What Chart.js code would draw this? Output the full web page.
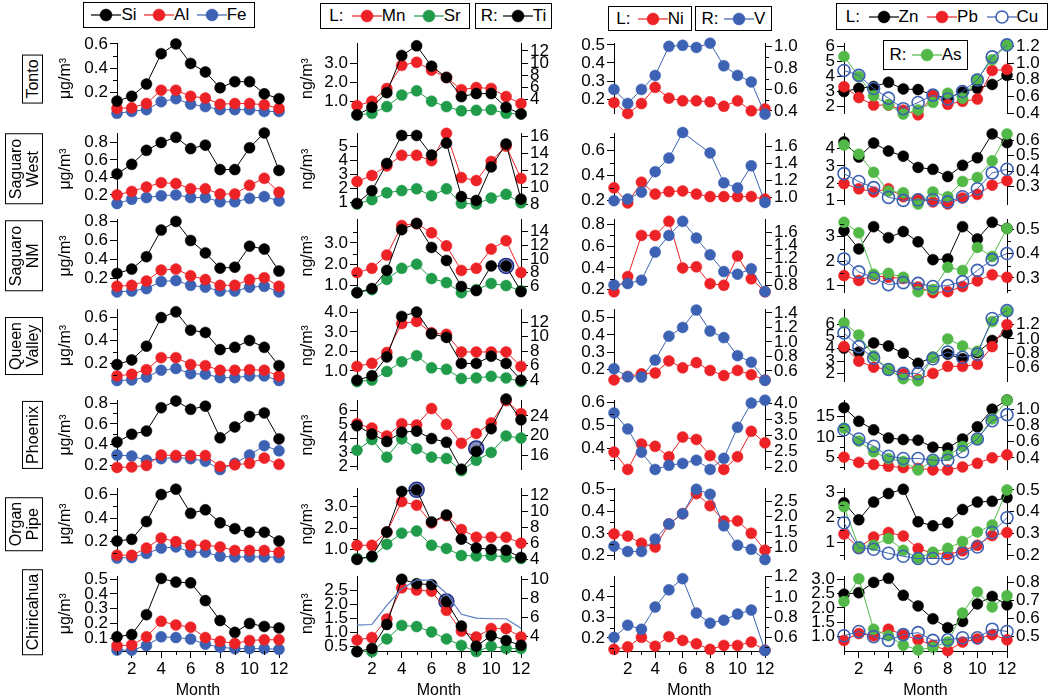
<!DOCTYPE html>
<html>
<head>
<meta charset="utf-8">
<title>Monthly elemental concentrations by site</title>
<script src="https://cdn.jsdelivr.net/npm/chart.js@4.4.1/dist/chart.umd.min.js"></script>
<style>
  body { margin: 0; width: 1050px; height: 700px; position: relative; overflow: hidden; background: #fff;
         font-family: 'Liberation Sans', Arial, sans-serif; color: #000; }
  canvas.panel { position: absolute; }
  .rowlab { position: absolute; left: 0; width: 43px; display: flex; justify-content: flex-end; transform: translateY(-50%); }
  .rowlab span { writing-mode: vertical-rl; transform: rotate(180deg); border: 1px solid #000; padding: 4px 1px;
                 font-size: 16px; line-height: 17px; text-align: center; white-space: nowrap; }
  .leg { position: absolute; box-sizing: border-box; border: 1px solid #000; background: #fff; display: flex;
         align-items: center; justify-content: space-evenly; font-size: 17px; white-space: nowrap; z-index: 5; }
  .leg svg { display: block; }
  .leg .it { display: flex; align-items: center; }
</style>
</head>
<body>
<script>
(function () {
  'use strict';

  // ── DATA ──────────────────────────────────────────────────────────────────
  var months = ['1', '2', '3', '4', '5', '6', '7', '8', '9', '10', '11', '12'];
  var sites  = ['Tonto', 'Saguaro\nWest', 'Saguaro\nNM', 'Queen\nValley', 'Phoenix', 'Organ\nPipe', 'Chiricahua'];

  // column 1 (µg/m3): Si, Al, Fe
  var siTonto = [0.13, 0.17, 0.27, 0.52, 0.60, 0.44, 0.37, 0.24, 0.29, 0.29, 0.19, 0.15];
  var alTonto = [0.07, 0.075, 0.11, 0.22, 0.22, 0.17, 0.155, 0.105, 0.11, 0.11, 0.10, 0.07];
  var feTonto = [0.03, 0.045, 0.06, 0.125, 0.15, 0.105, 0.085, 0.06, 0.06, 0.06, 0.045, 0.045];
  var siSW    = [0.44, 0.55, 0.71, 0.80, 0.86, 0.73, 0.77, 0.49, 0.49, 0.74, 0.91, 0.48];
  var alSW    = [0.20, 0.24, 0.29, 0.34, 0.33, 0.27, 0.27, 0.21, 0.21, 0.31, 0.39, 0.23];
  var feSW    = [0.10, 0.15, 0.17, 0.19, 0.20, 0.17, 0.17, 0.12, 0.12, 0.16, 0.18, 0.13];
  var siSNM   = [0.255, 0.30, 0.43, 0.71, 0.80, 0.60, 0.47, 0.31, 0.32, 0.54, 0.51, 0.28];
  var alSNM   = [0.12, 0.13, 0.175, 0.29, 0.30, 0.23, 0.19, 0.13, 0.13, 0.19, 0.21, 0.12];
  var feSNM   = [0.06, 0.07, 0.095, 0.17, 0.18, 0.13, 0.11, 0.07, 0.07, 0.11, 0.12, 0.06];
  var siQV    = [0.19, 0.23, 0.35, 0.60, 0.65, 0.49, 0.47, 0.32, 0.34, 0.40, 0.34, 0.18];
  var alQV    = [0.09, 0.105, 0.145, 0.25, 0.25, 0.19, 0.18, 0.14, 0.14, 0.145, 0.14, 0.09];
  var feQV    = [0.05, 0.055, 0.08, 0.14, 0.155, 0.11, 0.105, 0.075, 0.075, 0.09, 0.09, 0.05];
  var siPhx   = [0.425, 0.50, 0.53, 0.755, 0.82, 0.74, 0.77, 0.465, 0.57, 0.67, 0.705, 0.455];
  var alPhx   = [0.18, 0.185, 0.20, 0.30, 0.295, 0.295, 0.295, 0.19, 0.205, 0.22, 0.27, 0.21];
  var fePhx   = [0.30, 0.29, 0.25, 0.265, 0.275, 0.265, 0.24, 0.16, 0.22, 0.30, 0.39, 0.34];
  var siOP    = [0.205, 0.22, 0.37, 0.60, 0.645, 0.44, 0.47, 0.36, 0.31, 0.28, 0.28, 0.205];
  var alOP    = [0.085, 0.085, 0.145, 0.23, 0.20, 0.17, 0.17, 0.155, 0.125, 0.125, 0.125, 0.11];
  var feOP    = [0.06, 0.065, 0.10, 0.145, 0.155, 0.11, 0.11, 0.075, 0.07, 0.07, 0.07, 0.065];
  var siChi   = [0.11, 0.125, 0.26, 0.505, 0.48, 0.475, 0.355, 0.22, 0.14, 0.20, 0.18, 0.17];
  var alChi   = [0.05, 0.055, 0.11, 0.215, 0.19, 0.175, 0.105, 0.08, 0.065, 0.085, 0.09, 0.09];
  var feChi   = [0.02, 0.02, 0.05, 0.11, 0.105, 0.095, 0.06, 0.04, 0.03, 0.03, 0.03, 0.025];

  // column 2 (ng/m3): Mn, Sr left, Ti right
  var mnTonto = [0.80, 1.03, 1.69, 2.89, 3.05, 2.64, 2.26, 1.63, 1.74, 1.69, 1.27, 0.90];
  var srTonto = [0.32, 0.40, 0.75, 1.35, 1.57, 1.03, 0.75, 0.53, 0.56, 0.59, 0.40, 0.37];
  var tiTonto = [1.5, 2.75, 5.15, 11.25, 12.85, 9.5, 7.65, 4.5, 5.0, 5.0, 2.75, 1.65];
  var mnSW    = [2.5, 2.93, 3.6, 4.35, 4.35, 3.97, 5.9, 2.78, 2.57, 3.92, 5.0, 2.72];
  var srSW    = [0.91, 1.22, 1.71, 1.86, 1.99, 1.5, 1.99, 0.96, 0.91, 1.34, 1.6, 1.0];
  var tiSW    = [8.1, 9.6, 12.8, 16.1, 16.1, 13.8, 15.2, 8.9, 8.45, 12.4, 15.1, 8.6];
  var mnSNM   = [1.61, 1.81, 2.43, 3.81, 3.9, 3.47, 2.86, 1.71, 1.81, 2.71, 3.1, 1.61];
  var srSNM   = [0.67, 0.81, 1.29, 1.81, 2.0, 1.33, 1.14, 0.67, 0.81, 1.1, 1.0, 0.76];
  var tiSNM   = [5.1, 5.7, 8.35, 14.3, 15.2, 11.7, 9.8, 6.0, 5.4, 9.0, 9.0, 5.25];
  var mnQV    = [1.23, 1.39, 1.94, 3.42, 3.53, 2.95, 2.87, 1.97, 1.97, 1.97, 1.97, 1.23];
  var srQV    = [0.45, 0.53, 0.97, 1.47, 1.78, 1.16, 1.08, 0.61, 0.64, 0.72, 0.64, 0.45];
  var tiQV    = [4.0, 4.6, 7.2, 12.8, 13.4, 10.4, 9.9, 6.3, 6.3, 7.3, 6.3, 4.0];
  var mnPhx   = [5.06, 4.75, 4.18, 5.06, 4.97, 6.15, 5.02, 3.66, 4.36, 5.12, 6.72, 5.78];
  var srPhx   = [3.15, 3.92, 2.66, 3.97, 3.27, 2.66, 2.56, 1.69, 2.43, 3.0, 4.18, 4.03];
  var tiPhx   = [22.0, 20.3, 18.8, 20.7, 20.9, 19.4, 18.65, 13.2, 16.8, 21.4, 27.4, 23.2];
  var mnOP    = [1.19, 1.19, 1.81, 3.24, 3.07, 2.24, 2.57, 1.93, 1.57, 1.57, 1.57, 1.29];
  var srOP    = [0.57, 0.64, 1.24, 1.76, 1.86, 1.19, 1.04, 0.71, 0.69, 0.71, 0.64, 0.57];
  var tiOP    = [3.95, 4.35, 7.4, 12.5, 12.7, 8.67, 9.55, 6.5, 5.4, 5.2, 5.1, 4.2];
  var mnChi   = [0.72, 0.81, 1.47, 2.58, 2.5, 2.46, 1.78, 1.04, 0.83, 1.13, 1.13, 0.83];
  var srChi   = [0.31, 0.31, 0.76, 1.24, 1.2, 1.01, 0.76, 0.53, 0.31, 0.5, 0.42, 0.42];
  var tiChi   = [2.43, 2.77, 5.27, 10.0, 9.53, 9.43, 7.67, 5.1, 3.0, 4.1, 3.6, 3.1];
  var tiChiLine = [5.2, 5.27, 7.27, 9.0, 9.93, 9.87, 8.53, 6.33, 5.93, 5.87, 5.87, 4.87];
  // circled Ti points
  var ringSNM = [null, null, null, null, null, null, null, null, null, null, 9.0, null];
  var ringPhx = [null, null, null, null, null, null, null, null, 17.4, null, null, null];
  var ringOP  = [null, null, null, null, 12.7, null, null, null, null, null, null, null];
  var ringChi = [null, null, null, null, null, null, 7.67, null, null, null, null, null];

  // column 3: Ni left, V right
  var niTonto = [0.18, 0.12, 0.175, 0.265, 0.205, 0.19, 0.19, 0.185, 0.16, 0.19, 0.135, 0.145];
  var vTonto  = [0.60, 0.47, 0.60, 0.73, 1.0, 1.01, 0.99, 1.03, 0.82, 0.73, 0.67, 0.37];
  var niSW    = [0.30, 0.18, 0.345, 0.25, 0.27, 0.275, 0.25, 0.23, 0.23, 0.23, 0.23, 0.21];
  var vSW     = [0.96, 0.98, 1.06, 1.30, 1.46, 1.76, null, 1.52, 1.17, 1.11, 1.37, 0.94];
  var niSNM   = [0.18, 0.32, 0.70, 0.70, 0.83, 0.40, 0.41, 0.255, 0.24, 0.51, 0.30, 0.18];
  var vSNM    = [0.81, 0.83, 0.88, 1.30, 1.55, 1.76, 1.51, 1.26, 1.01, 0.97, 1.05, 0.71];
  var niQV    = [0.14, 0.16, 0.175, 0.18, 0.25, 0.21, 0.24, 0.195, 0.165, 0.195, 0.17, 0.14];
  var vQV     = [0.63, 0.52, 0.515, 0.75, 1.08, 1.20, 1.44, 1.15, 1.06, 0.81, 0.72, 0.47];
  var niPhx   = [0.385, 0.31, 0.42, 0.41, 0.365, 0.45, 0.44, 0.37, 0.31, 0.365, 0.475, 0.425];
  var vPhx    = [3.71, 3.21, 2.48, 1.94, 2.07, 2.13, 2.23, 1.94, 2.29, 3.26, 4.02, 4.11];
  var niOP    = [0.297, 0.287, 0.255, 0.237, 0.342, 0.389, 0.48, 0.425, 0.356, 0.356, 0.30, 0.223];
  var vOP     = [1.05, 0.88, 0.88, 1.28, 1.77, 2.10, 2.89, 2.73, 1.71, 1.08, 0.95, 0.62];
  var niChi   = [0.145, 0.157, 0.203, 0.16, 0.206, 0.188, 0.172, 0.145, 0.164, 0.164, 0.18, 0.141];
  var vChi    = [0.60, 0.72, 0.68, 0.90, 1.07, 1.18, 0.84, 0.74, 0.77, 0.83, 0.87, 0.47];

  // column 4: Zn, Pb, Cu left, As right
  var znTonto = [3.0, 3.21, 3.33, 3.61, 3.17, 3.13, 2.76, 2.56, 2.97, 3.21, 3.47, 4.08];
  var pbTonto = [3.32, 2.6, 2.1, 2.1, 1.76, 1.45, 2.76, 2.15, 2.35, 2.5, 4.4, 4.47];
  var cuTonto = [4.4, 4.07, 3.2, 2.56, 1.86, 2.27, 2.76, 2.5, 3.0, 3.77, 5.3, 6.1];
  var asTonto = [1.08, 0.84, 0.61, 0.50, 0.39, 0.44, 0.53, 0.64, 0.58, 0.81, 1.04, 1.22];
  var znSW    = [4.39, 3.51, 4.32, 3.86, 3.56, 2.91, 2.80, 2.38, 3.03, 3.47, 4.85, 4.35];
  var pbSW    = [1.97, 1.67, 1.49, 1.67, 1.21, 1.08, 0.91, 0.79, 1.14, 1.35, 1.88, 2.14];
  var cuSW    = [2.55, 2.09, 1.74, 1.17, 1.0, 1.03, 1.03, 0.91, 1.21, 1.67, 2.59, 2.80];
  var asSW    = [0.568, 0.509, 0.392, 0.271, 0.261, 0.188, 0.266, 0.235, 0.333, 0.359, 0.466, 0.639];
  var znSNM   = [3.25, 2.5, 3.41, 2.96, 3.21, 2.79, 2.06, 2.09, 3.41, 2.91, 3.59, 3.34];
  var pbSNM   = [1.41, 1.21, 1.41, 1.34, 1.29, 0.94, 0.71, 0.75, 0.96, 1.19, 1.44, 1.34];
  var cuSNM   = [2.09, 1.56, 1.31, 1.04, 1.12, 1.09, 0.96, 1.0, 1.16, 1.62, 2.06, 2.31];
  var asSNM   = [0.528, 0.485, 0.315, 0.319, 0.303, 0.244, 0.253, 0.344, 0.331, 0.425, 0.388, 0.503];
  var znQV    = [4.05, 3.73, 4.47, 4.22, 3.63, 2.82, 3.31, 3.56, 3.19, 3.68, 4.67, 5.28];
  var pbQV    = [4.17, 2.99, 2.50, 2.32, 2.0, 1.50, 2.0, 2.57, 2.57, 2.74, 4.17, 5.95];
  var cuQV    = [5.28, 4.17, 3.24, 2.32, 2.0, 2.0, 3.19, 3.73, 3.31, 3.56, 6.45, 7.09];
  var asQV    = [1.226, 1.055, 0.762, 0.569, 0.44, 0.41, 0.742, 0.999, 0.90, 0.827, 1.244, 1.386];
  var znPhx   = [17.25, 13.87, 11.77, 9.74, 9.36, 9.2, 7.48, 7.26, 9.51, 12.52, 16.87, 19.13];
  var pbPhx   = [5.0, 3.71, 3.19, 2.74, 2.43, 2.2, 1.84, 1.84, 2.58, 3.49, 4.84, 5.59];
  var cuPhx   = [11.77, 9.51, 7.71, 5.23, 4.68, 4.68, 4.23, 4.23, 6.35, 9.51, 14.03, 15.52];
  var asPhx   = [0.767, 0.606, 0.475, 0.39, 0.355, 0.25, 0.363, 0.43, 0.54, 0.63, 0.88, 1.11];
  var znOP    = [2.58, 1.9, 2.61, 2.95, 3.12, 1.82, 1.66, 1.78, 2.31, 2.61, 2.64, 2.79];
  var pbOP    = [1.33, 0.78, 1.21, 1.39, 1.25, 0.75, 0.56, 0.51, 0.66, 0.88, 1.27, 1.39];
  var cuOP    = [1.78, 0.78, 0.72, 0.56, 0.44, 0.35, 0.35, 0.35, 0.56, 0.81, 1.39, 1.98];
  var asOP    = [0.423, 0.238, 0.246, 0.277, 0.223, 0.186, 0.214, 0.232, 0.263, 0.307, 0.339, 0.50];
  var znChi   = [2.48, 2.53, 2.89, 3.03, 2.44, 2.07, 1.62, 1.31, 1.53, 2.14, 2.40, 2.11];
  var pbChi   = [0.87, 1.11, 1.03, 1.26, 1.07, 0.89, 0.70, 0.51, 0.81, 0.92, 1.07, 0.89];
  var cuChi   = [1.03, 1.18, 1.0, 0.87, 1.07, 1.14, 0.87, 0.89, 0.96, 0.96, 1.26, 1.18];
  var asChi   = [0.694, 0.82, 0.54, 0.505, 0.452, 0.426, 0.44, 0.47, 0.63, 0.747, 0.664, 0.726];

  // tick labels, one list per row
  var c1Ticks  = [['0.2', '0.4', '0.6'], ['0.2', '0.4', '0.6', '0.8'], ['0.2', '0.4', '0.6', '0.8'], ['0.2', '0.4', '0.6'],
                  ['0.2', '0.4', '0.6', '0.8'], ['0.2', '0.4', '0.6'], ['0.1', '0.2', '0.3', '0.4', '0.5']];
  var c2TicksL = [['1.0', '2.0', '3.0'], ['1', '2', '3', '4', '5'], ['1.0', '2.0', '3.0'], ['1.0', '2.0', '3.0', '4.0'],
                  ['2', '3', '4', '5', '6'], ['1.0', '2.0', '3.0'], ['0.5', '1.0', '1.5', '2.0', '2.5']];
  var c2TicksR = [['4', '6', '8', '10', '12'], ['8', '10', '12', '14', '16'], ['6', '8', '10', '12', '14'], ['4', '6', '8', '10', '12'],
                  ['16', '20', '24'], ['4', '6', '8', '10', '12'], ['4', '6', '8', '10']];
  var c3TicksL = [['0.2', '0.3', '0.4', '0.5'], ['0.2', '0.4', '0.6'], ['0.2', '0.4', '0.6', '0.8'], ['0.2', '0.3', '0.4', '0.5'],
                  ['0.4', '0.5', '0.6'], ['0.2', '0.3', '0.4', '0.5'], ['0.2', '0.3', '0.4']];
  var c3TicksR = [['0.4', '0.6', '0.8', '1.0'], ['1.0', '1.2', '1.4', '1.6'], ['0.8', '1.0', '1.2', '1.4', '1.6'], ['0.6', '0.8', '1.0', '1.2', '1.4'],
                  ['2.0', '2.5', '3.0', '3.5', '4.0'], ['1.0', '1.5', '2.0', '2.5'], ['0.6', '0.8', '1.0', '1.2']];
  var c4TicksL = [['2', '3', '4', '5', '6'], ['1', '2', '3', '4'], ['1', '2', '3'], ['2', '3', '4', '5', '6'],
                  ['5', '10', '15'], ['1', '2', '3'], ['1.0', '1.5', '2.0', '2.5', '3.0']];
  var c4TicksR = [['0.4', '0.6', '0.8', '1.0', '1.2'], ['0.3', '0.4', '0.5', '0.6'], ['0.3', '0.4', '0.5'], ['0.6', '0.8', '1.0', '1.2'],
                  ['0.4', '0.6', '0.8', '1.0'], ['0.2', '0.3', '0.4', '0.5'], ['0.5', '0.6', '0.7', '0.8']];

  // axis ranges [min, max], one per row
  var c1Range  = [[0.027, 0.605], [0.088, 0.905], [0.053, 0.822], [0.04, 0.672], [0.159, 0.826], [0.047, 0.652], [0.014, 0.519]];
  var c2RangeL = [[0.385, 4.03], [0.87, 5.9], [0.67, 4.1], [0.45, 4.15], [1.76, 6.74], [0.516, 3.86], [0.33, 2.99]];
  var c2RangeR = [[1.7, 13.25], [7.95, 16.35], [5.1, 15.8], [3.79, 13.77], [13.1, 27.14], [3.92, 12.89], [2.5, 10.3]];
  var c3RangeL = [[0.119, 0.509], [0.166, 0.733], [0.172, 0.848], [0.13, 0.548], [0.309, 0.609], [0.18, 0.504], [0.137, 0.497]];
  var c3RangeR = [[0.375, 1.028], [0.914, 1.75], [0.694, 1.79], [0.452, 1.45], [1.934, 4.106], [0.615, 2.92], [0.465, 1.203]];
  var c4RangeL = [[1.53, 6.2], [0.75, 4.885], [0.71, 3.71], [1.33, 7.19], [1.91, 19.06], [0.305, 3.157], [0.5, 3.1]];
  var c4RangeR = [[0.395, 1.236], [0.184, 0.643], [0.24, 0.54], [0.398, 1.415], [0.254, 1.109], [0.18, 0.507], [0.42, 0.833]];

  // ── STYLE ─────────────────────────────────────────────────────────────────
  var BLACK  = '#000000';
  var RED    = '#ec2227';
  var BLUE   = '#3d62b3';
  var GREEN  = '#1f9b4a';
  var LGREEN = '#52b848';

  var ROWS = [[40, 117], [130, 208], [216, 296], [306, 385], [397, 473], [485, 563], [573, 651]];
  var COLS = [
    { pl: 117, pr: 279,  lw: 61, rw: 12, unit: 'μg/m³', ticksL: c1Ticks,  rangeL: c1Range },
    { pl: 357, pr: 521,  lw: 59, rw: 40, unit: 'ng/m³', ticksL: c2TicksL, rangeL: c2RangeL, ticksR: c2TicksR, rangeR: c2RangeR },
    { pl: 614, pr: 765,  lw: 44, rw: 40, ticksL: c3TicksL, rangeL: c3RangeL, ticksR: c3TicksR, rangeR: c3RangeR },
    { pl: 844, pr: 1007, lw: 34, rw: 42, ticksL: c4TicksL, rangeL: c4RangeL, ticksR: c4TicksR, rangeR: c4RangeR }
  ];

  var SERIES = [
    [
      { label: 'Si', color: BLACK, axis: 'y', order: 0, rows: [siTonto, siSW, siSNM, siQV, siPhx, siOP, siChi] },
      { label: 'Al', color: RED,   axis: 'y', order: 1, rows: [alTonto, alSW, alSNM, alQV, alPhx, alOP, alChi] },
      { label: 'Fe', color: BLUE,  axis: 'y', order: 2, rows: [feTonto, feSW, feSNM, feQV, fePhx, feOP, feChi] }
    ],
    [
      { label: 'Ti', color: BLACK, axis: 'y2', order: 1, rows: [tiTonto, tiSW, tiSNM, tiQV, tiPhx, tiOP, tiChi] },
      { label: 'Mn', color: RED,   axis: 'y',  order: 2, rows: [mnTonto, mnSW, mnSNM, mnQV, mnPhx, mnOP, mnChi] },
      { label: 'Sr', color: GREEN, axis: 'y',  order: 3, rows: [srTonto, srSW, srSNM, srQV, srPhx, srOP, srChi] },
      { label: 'ring', ring: true, color: '#1d2f8a', axis: 'y2', order: 4, rows: [null, null, ringSNM, null, ringPhx, ringOP, ringChi] },
      { label: 'line', thin: true, color: '#5b7cc0', axis: 'y2', order: 0, rows: [null, null, null, null, null, null, tiChiLine] }
    ],
    [
      { label: 'V',  color: BLUE, axis: 'y2', order: 0, rows: [vTonto, vSW, vSNM, vQV, vPhx, vOP, vChi] },
      { label: 'Ni', color: RED,  axis: 'y',  order: 1, rows: [niTonto, niSW, niSNM, niQV, niPhx, niOP, niChi] }
    ],
    [
      { label: 'Cu', color: BLUE,   axis: 'y',  order: 0, open: true, rows: [cuTonto, cuSW, cuSNM, cuQV, cuPhx, cuOP, cuChi] },
      { label: 'As', color: LGREEN, axis: 'y2', order: 1, rows: [asTonto, asSW, asSNM, asQV, asPhx, asOP, asChi] },
      { label: 'Pb', color: RED,    axis: 'y',  order: 2, rows: [pbTonto, pbSW, pbSNM, pbQV, pbPhx, pbOP, pbChi] },
      { label: 'Zn', color: BLACK,  axis: 'y',  order: 3, rows: [znTonto, znSW, znSNM, znQV, znPhx, znOP, znChi] }
    ]
  ];

  var PAD = 8;        // canvas room above/below a plot for overflowing markers
  var XAXIS_H = 48;   // tick labels + "Month"

  Chart.defaults.font.family = "'Liberation Sans', Arial, sans-serif";
  Chart.defaults.font.size = 17;
  Chart.defaults.font.lineHeight = 1.1;
  Chart.defaults.color = '#000';

  // Short ticks half way between the labelled ones (y) and at odd months (x)
  var minorTicks = {
    id: 'minorTicks',
    afterDraw: function (chart) {
      var ctx = chart.ctx;
      ctx.save();
      ctx.strokeStyle = '#000';
      ctx.lineWidth = 1;
      Object.keys(chart.scales).forEach(function (id) {
        var s = chart.scales[id];
        if (!s.options.display) return;
        if (s.axis === 'y') {
          var vals = s.ticks.map(function (t) { return t.value; });
          if (vals.length < 2) return;
          var step = vals[1] - vals[0];
          if (Math.abs(s.getPixelForValue(vals[0]) - s.getPixelForValue(vals[1])) < 20) return;
          var x0 = s.position === 'left' ? s.right : s.left;
          var dir = s.position === 'left' ? -1 : 1;
          for (var k = -1; k < vals.length + 1; k++) {
            var v = vals[0] + (k + 0.5) * step;
            if (v < s.min || v > s.max) continue;
            var y = Math.round(s.getPixelForValue(v)) + 0.5;
            ctx.beginPath(); ctx.moveTo(x0, y); ctx.lineTo(x0 + dir * 4, y); ctx.stroke();
          }
        } else {
          s.ticks.forEach(function (t, i) {
            if (i % 2 === 1) return;
            var x = Math.round(s.getPixelForTick(i)) + 0.5;
            ctx.beginPath(); ctx.moveTo(x, s.top); ctx.lineTo(x, s.top + 4); ctx.stroke();
          });
        }
      });
      ctx.restore();
    }
  };

  // ── BUILDERS ──────────────────────────────────────────────────────────────

  function yAxis(position, range, labels, width, unit) {
    var values = labels.map(parseFloat);
    return {
      type: 'linear',
      position: position,
      min: range[0],
      max: range[1],
      afterBuildTicks: function (s) { s.ticks = values.map(function (v) { return { value: v }; }); },
      afterFit: function (s) { s.width = width; },
      ticks: { autoSkip: false, padding: 2, callback: function (v, i) { return labels[i]; } },
      grid: { drawOnChartArea: false, tickLength: 7, color: '#000', lineWidth: 1 },
      border: { display: true, color: '#000', width: 1 },
      title: unit ? { display: true, text: unit, padding: 0, font: { size: 16, lineHeight: 1.2 } } : { display: false }
    };
  }

  function xAxis(last) {
    if (!last) return { type: 'category', offset: false, display: false };
    return {
      type: 'category',
      offset: false,
      afterFit: function (s) { s.height = XAXIS_H; },
      ticks: {
        autoSkip: false, maxRotation: 0, padding: 2,
        callback: function (v, i) { return i % 2 === 1 ? months[i] : ''; }
      },
      grid: {
        drawOnChartArea: false, tickLength: 7, color: '#000',
        tickColor: function (c) { return c.index % 2 === 1 ? '#000' : 'rgba(0,0,0,0)'; }
      },
      border: { display: true, color: '#000', width: 1 },
      title: { display: true, text: 'Month', padding: { top: 2, bottom: 0 }, font: { size: 16 } }
    };
  }

  function dataset(s, data) {
    var ds = {
      label: s.label, data: data, yAxisID: s.axis, order: s.order,
      clip: false, spanGaps: true, tension: 0,
      borderColor: s.color, backgroundColor: s.color, borderWidth: 1,
      pointRadius: 5.5, pointBackgroundColor: s.color, pointBorderColor: s.color, pointBorderWidth: 0.5
    };
    if (s.open) {
      ds.pointBackgroundColor = 'rgba(255,255,255,0)';
      ds.pointBorderWidth = 1.6;
      ds.pointRadius = 6;
    }
    if (s.ring) {
      ds.showLine = false;
      ds.pointRadius = 7.5;
      ds.pointBackgroundColor = 'rgba(35,50,130,0.55)';
      ds.pointBorderWidth = 1.5;
    }
    if (s.thin) {
      ds.pointRadius = 0;
      ds.borderWidth = 1.2;
    }
    return ds;
  }

  function makePanel(c, r) {
    var col  = COLS[c];
    var last = r === ROWS.length - 1;
    var top  = ROWS[r][0], bottom = ROWS[r][1];

    var canvas = document.createElement('canvas');
    canvas.className = 'panel';
    canvas.width  = col.pr - col.pl + col.lw + col.rw;
    canvas.height = bottom - top + PAD + (last ? XAXIS_H : PAD);
    canvas.style.left = (col.pl - col.lw) + 'px';
    canvas.style.top  = (top - PAD) + 'px';
    document.body.appendChild(canvas);

    var scales = {
      x: xAxis(last),
      y: yAxis('left', col.rangeL[r], col.ticksL[r], col.lw, col.unit)
    };
    if (col.ticksR) scales.y2 = yAxis('right', col.rangeR[r], col.ticksR[r], col.rw);

    var datasets = [];
    SERIES[c].forEach(function (s) {
      if (s.rows[r]) datasets.push(dataset(s, s.rows[r]));
    });

    new Chart(canvas, {
      type: 'line',
      data: { labels: months, datasets: datasets },
      options: {
        responsive: false,
        animation: false,
        events: [],
        layout: { padding: { top: PAD, bottom: last ? 0 : PAD, left: 0, right: col.ticksR ? 0 : col.rw } },
        plugins: { legend: { display: false }, tooltip: { enabled: false } },
        scales: scales
      },
      plugins: [minorTicks]
    });
  }

  // ── LABELS ────────────────────────────────────────────────────────────────

  function siteLabel(name, r) {
    var d = document.createElement('div');
    d.className = 'rowlab';
    d.style.top = ((ROWS[r][0] + ROWS[r][1]) / 2) + 'px';
    var span = document.createElement('span');
    span.innerHTML = name.split('\n').join('<br>');
    d.appendChild(span);
    document.body.appendChild(d);
  }

  function symbol(color, open) {
    return '<svg width="30" height="14"><line x1="0" y1="7" x2="30" y2="7" stroke="' + color + '" stroke-width="1.2"/>' +
      '<circle cx="15" cy="7" r="6" fill="' + (open ? '#fff' : color) + '" stroke="' + color + '" stroke-width="' +
      (open ? 1.6 : 0.5) + '"/></svg>';
  }

  function legendBox(x, y, w, h, prefix, series) {
    var d = document.createElement('div');
    d.className = 'leg';
    d.style.left = x + 'px';
    d.style.top = y + 'px';
    d.style.width = w + 'px';
    d.style.height = h + 'px';
    var html = prefix ? '<span>' + prefix + '</span>' : '';
    series.forEach(function (s) {
      html += '<span class="it">' + symbol(s.color, s.open) + '<span>' + s.label + '</span></span>';
    });
    d.innerHTML = html;
    document.body.appendChild(d);
  }

  // ── BOOT ──────────────────────────────────────────────────────────────────

  for (var c = 0; c < COLS.length; c++) {
    for (var r = 0; r < ROWS.length; r++) makePanel(c, r);
  }
  sites.forEach(siteLabel);

  var S = SERIES;
  legendBox(83, 2, 172, 26, '', [S[0][0], S[0][1], S[0][2]]);
  legendBox(320, 3, 150, 26, 'L:', [S[1][1], S[1][2]]);
  legendBox(475, 3, 77, 26, 'R:', [S[1][0]]);
  legendBox(608, 6, 84, 25, 'L:', [S[2][1]]);
  legendBox(695, 6, 77, 25, 'R:', [S[2][0]]);
  legendBox(836, 3, 212, 27, 'L:', [S[3][3], S[3][2], S[3][0]]);
  legendBox(883, 40, 85, 30, 'R:', [S[3][1]]);
}());
</script>
</body>
</html>
